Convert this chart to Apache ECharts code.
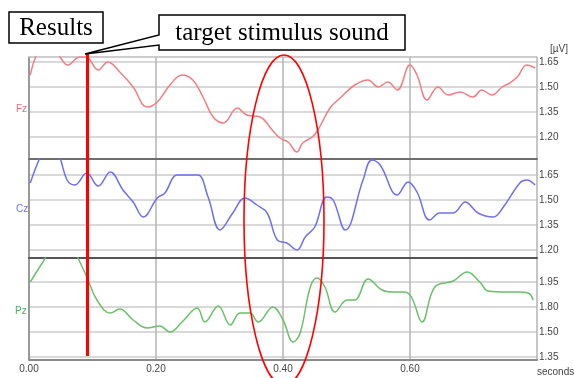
<!DOCTYPE html>
<html>
<head>
<meta charset="utf-8">
<script src="https://cdn.jsdelivr.net/npm/echarts@6/dist/echarts.min.js"></script>
<style>
  html, body { margin: 0; padding: 0; background: #fff; }
  #main { width: 574px; height: 378px; }
</style>
</head>
<body>
<div id="main"></div>
<script>
// time (s) and amplitude samples
var fzT = [0.002, 0.017, 0.033, 0.049, 0.061, 0.080, 0.090, 0.109, 0.124, 0.143, 0.164, 0.186, 0.202, 0.222, 0.241, 0.258, 0.274, 0.290, 0.306, 0.328, 0.343, 0.364, 0.383, 0.395, 0.408, 0.422, 0.431, 0.446, 0.455, 0.474, 0.490, 0.513, 0.534, 0.550, 0.565, 0.580, 0.600, 0.611, 0.627, 0.644, 0.660, 0.679, 0.699, 0.713, 0.729, 0.745, 0.757, 0.769, 0.784, 0.797];
var fzV = [1.572, 1.734, 1.770, 1.680, 1.632, 1.680, 1.680, 1.602, 1.650, 1.590, 1.500, 1.380, 1.410, 1.512, 1.572, 1.542, 1.440, 1.320, 1.284, 1.374, 1.332, 1.320, 1.242, 1.194, 1.170, 1.110, 1.164, 1.200, 1.242, 1.374, 1.434, 1.512, 1.542, 1.500, 1.530, 1.482, 1.632, 1.572, 1.422, 1.500, 1.452, 1.470, 1.440, 1.482, 1.452, 1.500, 1.524, 1.560, 1.632, 1.614];

var czT = [0.002, 0.017, 0.025, 0.041, 0.049, 0.060, 0.072, 0.091, 0.109, 0.128, 0.148, 0.164, 0.180, 0.202, 0.214, 0.233, 0.249, 0.266, 0.282, 0.301, 0.321, 0.340, 0.359, 0.375, 0.391, 0.406, 0.422, 0.435, 0.450, 0.469, 0.479, 0.498, 0.526, 0.540, 0.553, 0.580, 0.597, 0.611, 0.631, 0.647, 0.668, 0.687, 0.707, 0.731, 0.746, 0.773, 0.784, 0.797];
var czV = [1.602, 1.752, 1.800, 1.812, 1.752, 1.620, 1.590, 1.662, 1.584, 1.668, 1.560, 1.488, 1.398, 1.512, 1.542, 1.650, 1.650, 1.650, 1.518, 1.320, 1.422, 1.512, 1.470, 1.422, 1.260, 1.242, 1.200, 1.278, 1.338, 1.518, 1.500, 1.320, 1.620, 1.740, 1.710, 1.530, 1.608, 1.548, 1.380, 1.422, 1.422, 1.488, 1.422, 1.398, 1.452, 1.602, 1.620, 1.590];

var pzT = [0.002, 0.022, 0.041, 0.065, 0.077, 0.091, 0.107, 0.128, 0.143, 0.164, 0.186, 0.206, 0.222, 0.241, 0.265, 0.277, 0.298, 0.317, 0.332, 0.348, 0.361, 0.384, 0.400, 0.416, 0.427, 0.443, 0.454, 0.466, 0.482, 0.501, 0.513, 0.534, 0.556, 0.573, 0.592, 0.603, 0.619, 0.639, 0.668, 0.690, 0.710, 0.723, 0.753, 0.769, 0.786, 0.794];
var pzV = [1.800, 1.920, 2.022, 2.022, 1.944, 1.830, 1.692, 1.614, 1.638, 1.572, 1.524, 1.536, 1.500, 1.560, 1.644, 1.560, 1.656, 1.542, 1.614, 1.614, 1.560, 1.650, 1.572, 1.440, 1.494, 1.770, 1.824, 1.770, 1.620, 1.692, 1.692, 1.818, 1.752, 1.740, 1.740, 1.704, 1.560, 1.770, 1.806, 1.860, 1.800, 1.746, 1.740, 1.740, 1.734, 1.692];

var xTicks = [0, 0.2, 0.4, 0.6, 0.8];
var fzTicks = [1.20, 1.35, 1.50, 1.65];
var czTicks = [1.20, 1.35, 1.50, 1.65];
var pzTicks = [1.35, 1.50, 1.65, 1.80];
var pzTickLabels = ['1.35', '1.50', '1.80', '1.95'];

var fzRange = [1.068, 1.68];
var czRange = [1.152, 1.746];
var pzRange = [1.332, 1.944];

function zip(t, v) {
    return t.map(function (x, i) { return [x, v[i]]; });
}

function yAxisFor(gi, range, ticks, labels) {
    return {
        type: 'value',
        gridIndex: gi,
        position: 'right',
        min: range[0],
        max: range[1],
        axisLine: { show: true, lineStyle: { color: '#8a8a8a', width: 1.5 } },
        axisTick: { show: false, customValues: ticks },
        axisLabel: {
            customValues: ticks,
            margin: 2,
            color: '#444',
            fontSize: 10,
            fontFamily: 'Liberation Sans',
            padding: [4, 0, 0, 0],
            formatter: function (v) {
                var k = 0;
                for (var i = 0; i < ticks.length; i++) {
                    if (Math.abs(ticks[i] - v) < 1e-6) k = i;
                }
                return labels ? labels[k] : ticks[k].toFixed(2);
            }
        },
        splitLine: { show: true, lineStyle: { color: '#cdcdcd', width: 1.5 } }
    };
}

function xAxisFor(gi, showLabels, lineColor) {
    return {
        type: 'value',
        gridIndex: gi,
        min: 0,
        max: 0.8,
        axisTick: { show: false, customValues: xTicks },
        axisLine: { show: true, onZero: false, lineStyle: { color: lineColor, width: 2 } },
        axisLabel: {
            show: showLabels,
            customValues: xTicks,
            margin: 4,
            color: '#444',
            fontSize: 10,
            fontFamily: 'Liberation Sans',
            formatter: function (v) { return v > 0.79 ? '' : v.toFixed(2); }
        },
        splitLine: { show: true, lineStyle: { color: '#b4b4b4', width: 1.5 } }
    };
}

var chart = echarts.init(document.getElementById('main'));

var option = {
    backgroundColor: '#fff',
    animation: false,
    grid: [
        { left: 29, right: 37, top: 57, height: 102 },
        { left: 29, right: 37, top: 159, height: 99 },
        { left: 29, right: 37, top: 258, height: 102 }
    ],
    xAxis: [
        xAxisFor(0, false, '#6e6e6e'),
        xAxisFor(1, false, '#555'),
        xAxisFor(2, true, '#8a8a8a'),
        { type: 'value', gridIndex: 0, position: 'top', min: 0, max: 0.8,
          axisLine: { show: true, lineStyle: { color: '#bdbdbd', width: 1.5 } },
          axisTick: { show: false }, axisLabel: { show: false }, splitLine: { show: false } }
    ],
    yAxis: [
        yAxisFor(0, fzRange, fzTicks),
        yAxisFor(1, czRange, czTicks),
        yAxisFor(2, pzRange, pzTicks, pzTickLabels)
    ],
    series: [
        { name: 'Fz', type: 'line', xAxisIndex: 0, yAxisIndex: 0, data: zip(fzT, fzV),
          smooth: 0.4, showSymbol: false, lineStyle: { color: '#f27d84', width: 1.5 } },
        { name: 'Cz', type: 'line', xAxisIndex: 1, yAxisIndex: 1, data: zip(czT, czV),
          smooth: 0.4, showSymbol: false, lineStyle: { color: '#6f6ff0', width: 1.5 } },
        { name: 'Pz', type: 'line', xAxisIndex: 2, yAxisIndex: 2, data: zip(pzT, pzV),
          smooth: 0.4, showSymbol: false, lineStyle: { color: '#6cbf6c', width: 1.5 } }
    ],
    graphic: [
        // channel names
        { type: 'text', left: 16, top: 104, style: { text: 'Fz', fill: '#e0707a', font: '10px Liberation Sans' } },
        { type: 'text', left: 16, top: 204, style: { text: 'Cz', fill: '#6f6ff0', font: '10px Liberation Sans' } },
        { type: 'text', left: 15, top: 306, style: { text: 'Pz', fill: '#55aa66', font: '10px Liberation Sans' } },
        { type: 'text', left: 550, top: 44, style: { text: '[\u00b5V]', fill: '#444', font: '10px Liberation Sans' } },
        { type: 'text', left: 537, top: 367, style: { text: 'seconds', fill: '#444', font: '10px Liberation Sans' } },
        // red marker line and ellipse
        { type: 'line', shape: { x1: 87.5, y1: 54, x2: 87.5, y2: 356 }, style: { stroke: '#ff0000', lineWidth: 3 }, z: 100 },
        { type: 'ellipse', shape: { cx: 284, cy: 220, rx: 40, ry: 165 }, style: { fill: 'none', stroke: '#ff0000', lineWidth: 1.6 }, z: 100 },
        // boxed labels
        { type: 'rect', shape: { x: 9, y: 12, width: 94, height: 31 }, style: { fill: '#fff', stroke: '#000', lineWidth: 1.5 }, z: 100 },
        { type: 'text', x: 56, y: 28, style: { text: 'Results', fill: '#000', font: '25px Liberation Serif', align: 'center', verticalAlign: 'middle' }, z: 101 },
        { type: 'polygon', shape: { points: [[159, 15], [405, 15], [405, 50], [159, 50], [159, 45], [85, 54], [159, 35]] },
          style: { fill: '#fff', stroke: '#000', lineWidth: 1.5 }, z: 100 },
        { type: 'text', x: 282, y: 33, style: { text: 'target stimulus sound', fill: '#000', font: '25px Liberation Serif', align: 'center', verticalAlign: 'middle' }, z: 101 }
    ]
};

chart.setOption(option);
</script>
</body>
</html>
